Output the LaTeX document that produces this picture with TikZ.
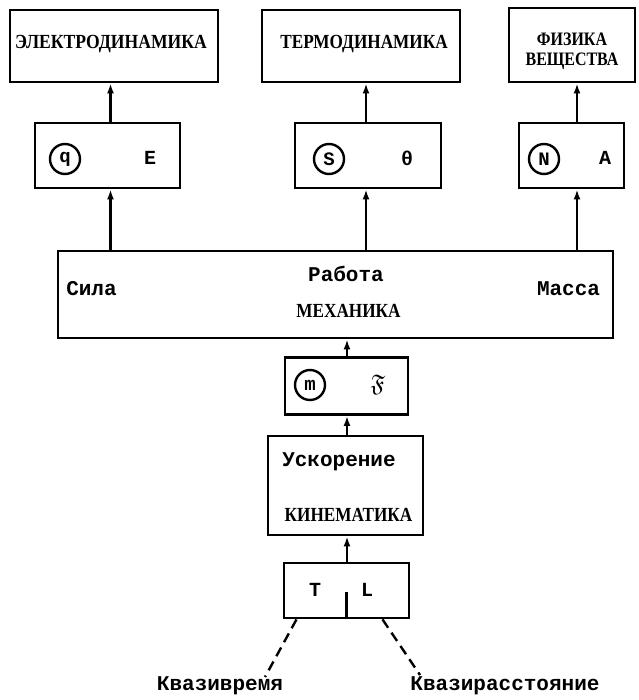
\documentclass[tikz,border=0pt]{standalone}
\usepackage{fontspec}
\usepackage{amssymb}
\usetikzlibrary{arrows.meta,calc}
\newfontfamily\twfont{Liberation Mono}
\newfontfamily\ttlfont{Liberation Serif}
\newcommand{\ttlx}[1]{\scalebox{0.86}[1]{#1}}
\tikzset{
  box/.style={draw,line width=2.8pt,rectangle,inner sep=0pt},
  arr/.style={line width=2.4pt,-{Latex[length=10pt,width=7pt]}},
  ttl/.style={font=\ttlfont\bfseries\fontsize{20}{20}\selectfont,inner sep=0pt},
  tw/.style={font=\twfont\bfseries\fontsize{21}{21}\selectfont,inner sep=0pt},
  sym/.style={font=\twfont\bfseries\fontsize{20}{20}\selectfont,inner sep=0pt},
  circ/.style={draw,circle,line width=2.4pt,minimum size=30pt,inner sep=0pt,font=\twfont\bfseries\fontsize{19}{19}\selectfont}
}
\begin{document}
\begin{tikzpicture}[x=1pt,y=-1pt]
\useasboundingbox (0,0) rectangle (638,700);
% column coordinates
\coordinate (c1) at (110.5,0);
\coordinate (c2) at (366,0);
\coordinate (c3) at (577,0);
\coordinate (c4) at (347,0);
% top boxes
\node[box,minimum width=208pt,minimum height=72pt] (ed) at (114,46) {};
\node[box,minimum width=198pt,minimum height=72pt] (td) at (361,46) {};
\node[box,minimum width=126pt,minimum height=74pt] (fv) at (572,45) {};
\node[ttl] (edt) at (111,44) {\scalebox{0.88}[1]{ЭЛЕКТРОДИНАМИКА}};
\node[ttl] (tdt) at (364,44) {\ttlx{ТЕРМОДИНАМИКА}};
\node[ttl,font=\ttlfont\bfseries\fontsize{19}{20}\selectfont,align=center] (fvt) at (572,51) {\scalebox{0.84}[1]{ФИЗИКА}\\\scalebox{0.84}[1]{ВЕЩЕСТВА}};
% middle boxes
\node[box,minimum width=145pt,minimum height=65pt] (qE) at (107.5,155.5) {};
\node[box,minimum width=146pt,minimum height=65pt] (SO) at (368,155.5) {};
\node[box,minimum width=105pt,minimum height=65pt] (NA) at (571.5,155.5) {};
\node[circ] (q) at (65,159) {q};
\node[sym] (E) at (150,158) {E};
\node[circ] (S) at (329,159) {S};
\node[sym] (th) at (407,158) {θ};
\node[circ] (N) at (544,159) {N};
\node[sym] (A) at (605,158) {A};
% mechanics
\node[box,minimum width=555pt,minimum height=87pt] (mech) at (335.5,294.5) {};
\node[tw] (sila) at (91.5,289) {Сила};
\node[tw] (rab) at (346,274) {Работа};
\node[tw] (massa) at (568.5,289) {Масса};
\node[ttl] (mecht) at (348.5,311) {\ttlx{МЕХАНИКА}};
% m F
\node[box,minimum width=123pt,minimum height=57pt] (mF) at (346.5,386) {};
\node[circ] (m) at (310,385) {m};
\node[font=\fontsize{24}{24}\selectfont,inner sep=0pt] (F) at (378,385) {$\mathfrak{F}$};
% kinematics
\node[box,minimum width=155pt,minimum height=99pt] (kin) at (345.5,485.5) {};
\node[tw] (usk) at (339,462) {Ускорение};
\node[ttl] (kint) at (348.5,515) {\ttlx{КИНЕМАТИКА}};
% T L
\node[box,minimum width=125pt,minimum height=55pt] (TL) at (346.5,590.5) {};
\node[sym] (T) at (315,590) {T};
\node[sym] (L) at (367,590) {L};
\coordinate (div) at (346.5,592);
\draw[line width=2.4pt] (TL.south) -- (div);
% arrows
\draw[arr] (qE.north -| c1) -- (ed.south -| c1);
\draw[arr] (SO.north -| c2) -- (td.south -| c2);
\draw[arr] (NA.north -| c3) -- (fv.south -| c3);
\draw[arr] (mech.north -| c1) -- (qE.south -| c1);
\draw[arr] (mech.north -| c2) -- (SO.south -| c2);
\draw[arr] (mech.north -| c3) -- (NA.south -| c3);
\draw[arr] (mF.north -| c4) -- (mech.south -| c4);
\draw[arr] (kin.north -| c4) -- (mF.south -| c4);
\draw[arr] (TL.north -| c4) -- (kin.south -| c4);
% bottom
\coordinate (lq) at (265,677);
\coordinate (rq) at (420,675);
\draw[line width=2.4pt,dash pattern=on 10pt off 6pt] ($(TL.south)+(-50,0)$) -- (lq);
\draw[line width=2.4pt,dash pattern=on 10pt off 6pt] ($(TL.south)+(36,0)$) -- (rq);
\node[tw] (kvt) at (220,686) {Квазивремя};
\node[tw] (kvr) at (505,686) {Квазирасстояние};
\end{tikzpicture}
\end{document}
